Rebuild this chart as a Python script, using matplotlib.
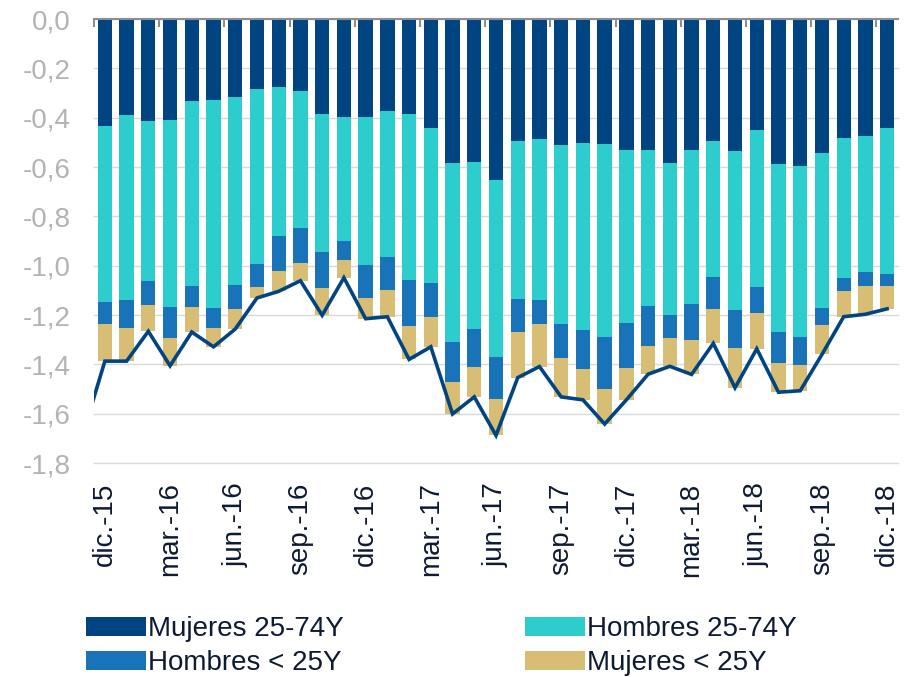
import numpy as np
import matplotlib.pyplot as plt

plt.rcParams['font.family'] = ['Liberation Sans', 'DejaVu Sans']

months = ['dic.-15', 'ene.-16', 'feb.-16', 'mar.-16', 'abr.-16', 'may.-16', 'jun.-16',
          'jul.-16', 'ago.-16', 'sep.-16', 'oct.-16', 'nov.-16', 'dic.-16',
          'ene.-17', 'feb.-17', 'mar.-17', 'abr.-17', 'may.-17', 'jun.-17',
          'jul.-17', 'ago.-17', 'sep.-17', 'oct.-17', 'nov.-17', 'dic.-17',
          'ene.-18', 'feb.-18', 'mar.-18', 'abr.-18', 'may.-18', 'jun.-18',
          'jul.-18', 'ago.-18', 'sep.-18', 'oct.-18', 'nov.-18', 'dic.-18']

mujeres_25_74 = [-0.434, -0.391, -0.414, -0.411, -0.333, -0.329, -0.315, -0.283, -0.276, -0.292,
                 -0.385, -0.398, -0.398, -0.373, -0.385, -0.442, -0.584, -0.579, -0.653, -0.494,
                 -0.488, -0.511, -0.503, -0.507, -0.533, -0.531, -0.584, -0.531, -0.494, -0.535,
                 -0.450, -0.586, -0.596, -0.544, -0.481, -0.475, -0.442]
hombres_25_74 = [-0.713, -0.749, -0.648, -0.757, -0.749, -0.842, -0.764, -0.710, -0.602, -0.556,
                 -0.560, -0.504, -0.598, -0.592, -0.672, -0.630, -0.725, -0.676, -0.719, -0.641,
                 -0.650, -0.725, -0.757, -0.782, -0.699, -0.634, -0.615, -0.626, -0.550, -0.646,
                 -0.636, -0.683, -0.692, -0.629, -0.568, -0.549, -0.592]
hombres_menor25 = [-0.089, -0.112, -0.099, -0.124, -0.087, -0.082, -0.097, -0.092, -0.142, -0.141,
                   -0.146, -0.077, -0.134, -0.135, -0.188, -0.138, -0.164, -0.154, -0.169, -0.135,
                   -0.097, -0.139, -0.160, -0.210, -0.184, -0.161, -0.095, -0.146, -0.130, -0.153,
                   -0.104, -0.124, -0.115, -0.068, -0.054, -0.059, -0.049]
mujeres_menor25 = [-0.151, -0.135, -0.105, -0.114, -0.100, -0.076, -0.081, -0.046, -0.084, -0.072,
                   -0.110, -0.070, -0.085, -0.107, -0.135, -0.119, -0.128, -0.123, -0.147, -0.184,
                   -0.174, -0.157, -0.124, -0.143, -0.128, -0.114, -0.114, -0.138, -0.141, -0.161,
                   -0.147, -0.120, -0.104, -0.119, -0.104, -0.114, -0.092]
# total of the month before dic.-15 (line enters from the left edge)
total_prev = -1.68

series = [
    ('Mujeres 25-74Y', mujeres_25_74, '#004481'),
    ('Hombres 25-74Y', hombres_25_74, '#2DCCCD'),
    ('Hombres < 25Y', hombres_menor25, '#1973B8'),
    ('Mujeres < 25Y', mujeres_menor25, '#D8BE75'),
]

x = np.arange(len(months))
fig = plt.figure(figsize=(9.08, 6.77), dpi=100)
ax = fig.add_axes([94/908, 1-463/677, 804/908, 444/677])

bottom = np.zeros(len(months))
for name, vals, col in series:
    vals = np.array(vals)
    ax.bar(x, vals, 0.66, bottom=bottom, color=col, label=name, zorder=2)
    bottom += vals

total = np.concatenate([[total_prev], bottom])
ax.plot(np.arange(-1, len(months)), total, color='#004481', lw=2.6, zorder=3,
        solid_joinstyle='miter')

ax.set_xlim(-0.5, len(months) - 0.5)
ax.set_ylim(-1.8, 0)
yt = np.arange(-1.8, 0.01, 0.2)
ax.set_yticks(yt)
ax.set_yticklabels([('%.1f' % v).replace('.', ',').replace('-0,0', '0,0') for v in yt])
ax.yaxis.grid(True, color='#D9D9D9', lw=1, zorder=0, clip_on=False)
ax.tick_params(axis='y', length=0, pad=17, labelsize=20, labelcolor='#B3B3B3')

ax.set_xticks(x[::3])
ax.set_xticklabels(months[::3], rotation=90, va='top', ha='center')
ax.tick_params(axis='x', length=0, pad=14, labelsize=20, labelcolor='#0E1A33')

for s in ['left', 'right', 'bottom']:
    ax.spines[s].set_visible(False)
ax.spines['top'].set_color('#8C8C8C')
ax.spines['top'].set_linewidth(1.5)
ax.spines['top'].set_zorder(4)

top = ax.secondary_xaxis('top')
top.set_xticks(np.arange(-0.5, len(months), 3))
top.set_xticklabels([])
top.tick_params(direction='in', length=6, width=1.5, color='#8C8C8C')
top.spines['top'].set_visible(False)

handles, labels = ax.get_legend_handles_labels()
order = [0, 2, 1, 3]
fig.legend([handles[i] for i in order], [labels[i] for i in order],
           loc='upper left', bbox_to_anchor=(86/908, 1-616/677),
           ncol=2, frameon=False, fontsize=20, handlelength=2.15, handletextpad=0.1,
           columnspacing=6.5, labelspacing=0.3, borderpad=0, borderaxespad=0,
           labelcolor='#0E1A33')

fig.savefig('out.png', dpi=100)
